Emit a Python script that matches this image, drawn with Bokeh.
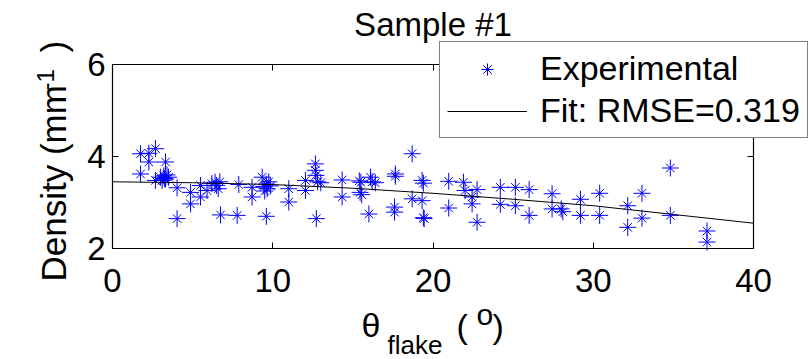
from math import pi
from bokeh.plotting import figure
from bokeh.models import (Legend, LegendItem, Label, LinearAxis, FixedTicker,
                          Range1d, ColumnDataSource)
from bokeh.embed import file_html
from bokeh.resources import INLINE

# ---------------- data ----------------
theta_flake = [1.75, 2.27, 2.68, 2.27, 1.75, 3.31, 2.68, 2.99, 3.2, 3.3, 3.5, 3.1, 3.4, 3.25,
               4.03, 4.03, 4.87, 4.87, 5.49, 5.49, 5.9, 6.2, 6.4, 6.5, 6.6, 6.7, 6.74,
               7.88, 7.78, 8.71, 8.71, 9.34, 9.45, 9.5, 9.6, 9.65, 9.75, 9.85, 9.6,
               11.0, 11.0, 12.04, 12.04, 12.66, 12.66, 12.7, 12.8, 13.0, 12.72,
               14.33, 14.33, 15.4, 15.5, 15.45, 15.55, 16.1, 16.2, 16.4, 16.0,
               17.65, 17.65, 17.6, 17.6, 18.7, 18.7, 19.32, 19.4, 19.32, 19.4, 19.45,
               20.98, 20.98, 21.9, 22.0, 22.44, 22.44, 22.75, 22.75, 24.2, 24.2,
               25.14, 25.14, 26.0, 26.0, 27.43, 27.43, 28.0, 28.1, 29.2, 29.2,
               30.4, 30.4, 32.15, 32.15, 33.04, 33.04, 34.81, 34.81, 37.1, 37.1]
density = [4.06, 4.07, 4.17, 3.88, 3.62, 3.88, 3.48, 3.55, 3.58, 3.51, 3.55, 3.48, 3.60, 3.52,
           3.32, 2.65, 3.22, 2.97, 3.37, 3.12, 3.26, 3.41, 3.44, 3.37, 3.30, 3.45, 2.73,
           3.39, 2.72, 3.33, 3.12, 3.55, 3.35, 3.25, 3.40, 3.30, 3.45, 3.36, 2.70,
           3.30, 3.01, 3.26, 3.48, 3.84, 3.70, 3.59, 3.45, 3.43, 2.65,
           3.49, 3.12, 3.47, 3.44, 3.22, 3.17, 3.55, 3.45, 3.43, 2.75,
           3.62, 3.57, 2.90, 2.79, 4.06, 3.08, 3.48, 3.42, 3.04, 2.67, 2.65,
           3.46, 2.88, 3.44, 3.26, 3.12, 2.97, 3.28, 2.57, 3.33, 2.96,
           3.33, 2.93, 3.28, 2.72, 3.19, 2.86, 2.86, 2.80, 3.07, 2.72,
           3.20, 2.72, 2.93, 2.46, 3.20, 2.66, 3.75, 2.72, 2.38, 2.14]
fit_theta = [0, 5, 10, 15, 20, 25, 30, 35, 40]
fit_density = [3.45, 3.43, 3.39, 3.31, 3.20, 3.07, 2.93, 2.74, 2.55]
x_ticks = [0, 10, 20, 30, 40]
y_ticks = [2, 4, 6]
x_lim = (0, 40)
y_lim = (2, 6)
title_text = "Sample #1"
legend_labels = ["Experimental", "Fit: RMSE=0.319"]

# ---------------- layout ----------------
FONT = "Liberation Sans"
W, H = 809, 359
FL, FR, FT, FB = 112, 753, 64, 248   # axes box edges in page pixels
BASE_SHIFT = 0.37                     # baseline correction, in em

# the plotting frame covers the whole page; the axes box is drawn with
# fixed-location axes so that legend and labels may overhang it
sx = (FR - FL) / (x_lim[1] - x_lim[0])
sy = (FB - FT) / (y_lim[1] - y_lim[0])
x_range = Range1d(x_lim[0] - FL / sx, x_lim[1] + (W - FR) / sx)
y_range = Range1d(y_lim[0] - (H - FB) / sy, y_lim[1] + FT / sy)

p = figure(width=W, height=H, x_range=x_range, y_range=y_range,
           output_backend="svg", toolbar_location=None,
           x_axis_location=None, y_axis_location=None,
           min_border=0)
p.grid.visible = False
p.outline_line_color = None
p.background_fill_color = "white"
p.border_fill_color = "white"

def make_axis(place, ticks, bounds, loc, show_labels):
    ax = LinearAxis(ticker=FixedTicker(ticks=ticks), bounds=bounds, fixed_location=loc)
    ax.axis_line_color = "black"
    ax.axis_line_width = 1.2
    ax.major_tick_in = 6
    ax.major_tick_out = 0
    ax.major_tick_line_color = "black"
    ax.minor_tick_line_color = None
    ax.major_label_text_font = FONT
    if show_labels:
        ax.major_label_text_font_size = "33px"
        ax.major_label_text_color = "black"
        ax.major_label_standoff = 20 if place == "below" else 7
    else:
        ax.major_label_text_font_size = "0px"
        ax.major_label_text_color = None
    p.add_layout(ax, place)
    return ax

make_axis("below", x_ticks, x_lim, y_lim[0], True)
make_axis("left", y_ticks, y_lim, x_lim[0], True)
make_axis("above", x_ticks, x_lim, y_lim[1], False)
make_axis("right", y_ticks, y_lim, x_lim[1], False)

# ---------------- data marks ----------------
src = ColumnDataSource(dict(x=theta_flake, y=density))
r_plus = p.scatter("x", "y", source=src, marker="cross", size=17,
                   line_color="#0000ff", line_width=1)
r_x = p.scatter("x", "y", source=src, marker="x", size=12,
                line_color="#0000ff", line_width=1)
r_fit = p.line(fit_theta, fit_density, line_color="black", line_width=1)

# ---------------- texts ----------------
def lab(text, x_img, y_img, size_px, angle=0.0, align="left"):
    shift = BASE_SHIFT * size_px
    if angle == 0.0:
        xs, ys = x_img, H - (y_img - shift)
    else:
        xs, ys = x_img - shift, H - y_img
    p.add_layout(Label(x=xs, y=ys, x_units="screen", y_units="screen",
                       text=text, text_font=FONT, text_font_size=f"{size_px}px",
                       text_align=align, text_baseline="alphabetic",
                       angle=angle, text_color="black"))

lab(title_text, (FL + FR) / 2, 36, 33, align="center")

legend = Legend(items=[LegendItem(label=legend_labels[0], renderers=[r_plus, r_x]),
                       LegendItem(label=legend_labels[1], renderers=[r_fit])],
                location=(439, H - 138),
                orientation="vertical",
                label_text_font=FONT, label_text_font_size="34px",
                label_text_color="black",
                glyph_width=80, glyph_height=30, label_height=30,
                label_standoff=13, spacing=3, padding=7, margin=0,
                border_line_color="black", border_line_width=1.5,
                background_fill_color="white", background_fill_alpha=1)
p.add_layout(legend)

# x label: theta_{flake} (^o)
lab("\u03b8", 361, 337, 34)
lab("flake", 387, 354, 26)
lab("(", 456, 338, 34)
lab("o", 476, 325, 30)
lab(")", 492, 338, 34)

# y label: Density (mm^{-1} )
lab("Density (mm", 66, 281, 35, pi / 2)
lab("-1", 54, 90, 24, pi / 2)
lab(")", 66, 52, 35, pi / 2)

open("out.html", "w").write(file_html(p, INLINE))
